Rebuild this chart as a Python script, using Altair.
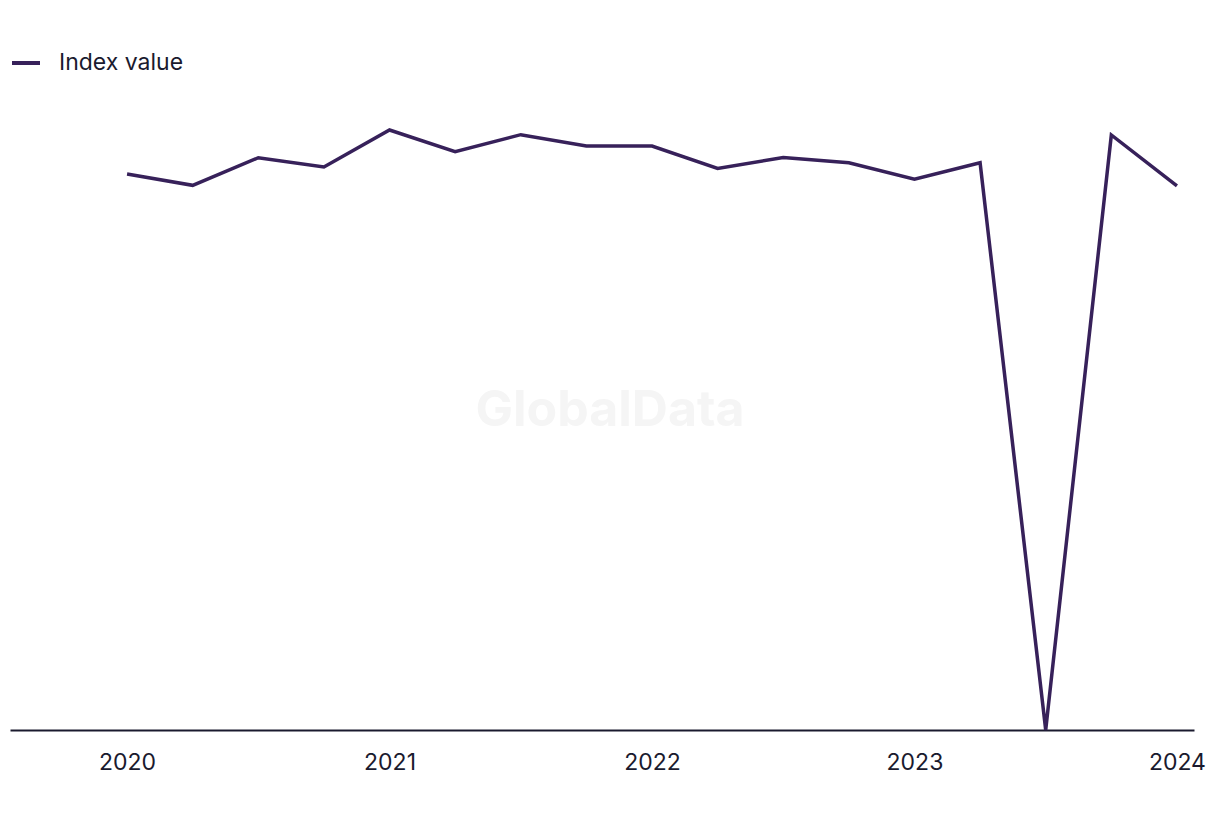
import altair as alt
import pandas as pd

quarters = [2020.0, 2020.25, 2020.5, 2020.75, 2021.0, 2021.25, 2021.5, 2021.75,
            2022.0, 2022.25, 2022.5, 2022.75, 2023.0, 2023.25, 2023.5, 2023.75, 2024.0]
index_values = [92.67, 90.78, 95.38, 93.83, 100.0, 96.38, 99.22, 97.33,
                97.33, 93.6, 95.4, 94.55, 91.8, 94.55, 0.0, 99.17, 90.67]
year_ticks = [2020, 2021, 2022, 2023, 2024]
series_name = "Index value"

df = pd.DataFrame({"t": quarters, "v": index_values, "series": [series_name] * len(quarters)})

FONT = "Inter"
LINE_COLOR = "#37215a"
TEXT_COLOR = "#1a1a2e"

line = alt.Chart(df).mark_line(strokeWidth=3.5, strokeJoin="miter").encode(
    x=alt.X("t:Q",
            scale=alt.Scale(domain=[2019.554, 2024.065], nice=False, zero=False),
            axis=alt.Axis(values=year_ticks, format="d", title=None, grid=False,
                          ticks=False, domain=True, domainColor=TEXT_COLOR, domainWidth=2,
                          labelFont=FONT, labelFontSize=23, labelColor=TEXT_COLOR,
                          labelPadding=21, labelFlush=False)),
    y=alt.Y("v:Q", scale=alt.Scale(domain=[0, 100], nice=False), axis=None),
    color=alt.Color("series:N", scale=alt.Scale(range=[LINE_COLOR]),
                    legend=alt.Legend(title=None, orient="none", legendX=0, legendY=-83,
                                      symbolType="stroke", symbolStrokeWidth=4, symbolSize=784,
                                      labelFont=FONT, labelFontSize=23, labelColor=TEXT_COLOR,
                                      labelOffset=17)),
)

wm_df = pd.DataFrame({"label": ["GlobalData"]})
watermark = alt.Chart(wm_df).mark_text(
    font=FONT, fontSize=50, fontWeight="bold", color="#f5f5f5", align="center", baseline="middle"
).encode(
    text="label:N",
    x=alt.value(600),
    y=alt.value(281),
)

chart = alt.layer(watermark, line).properties(
    width=1184, height=600,
    padding={"left": 10, "top": 130, "right": 26, "bottom": 90},
    autosize=alt.AutoSizeParams(type="none"),
    background="white",
).configure_view(stroke=None)

chart.save("out.html", embed_options={"renderer": "svg", "actions": False})
